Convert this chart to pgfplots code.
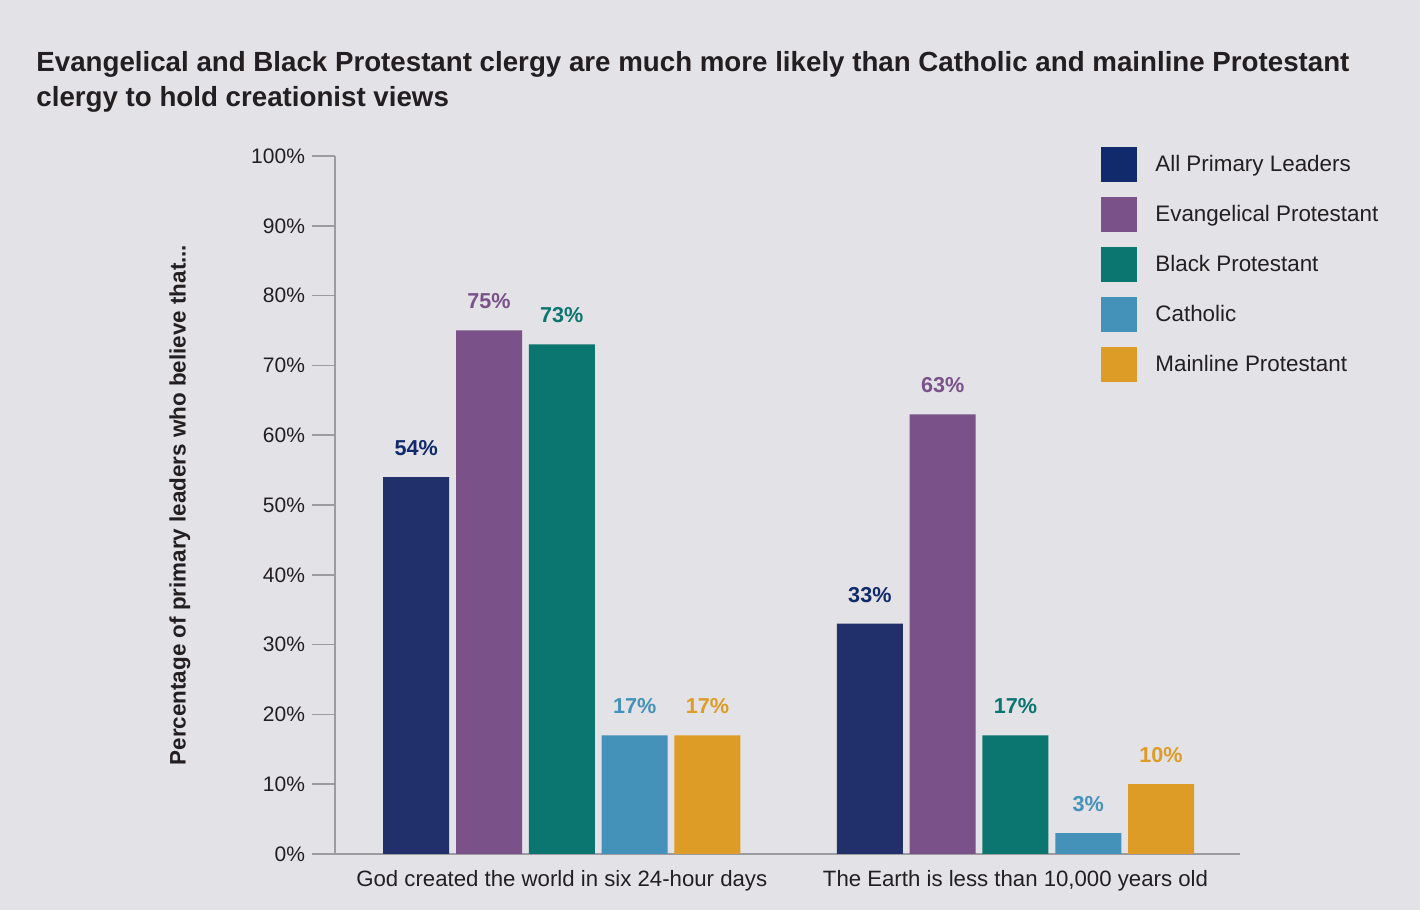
\documentclass[border=0pt]{standalone}
\usepackage{pgfplots}
\pgfplotsset{compat=1.18}
\usepackage{fontspec}
\setmainfont{Liberation Sans}

\definecolor{bg}{HTML}{E3E2E7}
\definecolor{axisgray}{HTML}{9B9BA0}
\definecolor{txt}{HTML}{231F20}
\definecolor{cnavy}{HTML}{21306A}
\definecolor{cnavyleg}{HTML}{102A6B}
\definecolor{cpurple}{HTML}{7A5189}
\definecolor{cteal}{HTML}{0B756F}
\definecolor{cblue}{HTML}{4492B9}
\definecolor{cgold}{HTML}{DD9C26}

\begin{document}
\begin{tikzpicture}
% page: 1420x910 px at 0.5pt per px
\path[fill=bg, use as bounding box] (0,0) rectangle (710pt,455pt);
\node[anchor=base west, align=left, font=\fontsize{13.85}{17.5}\selectfont\bfseries, text=txt, inner sep=0]
  at (18pt,401.5pt) {Evangelical and Black Protestant clergy are much more likely than Catholic and mainline Protestant\\clergy to hold creationist views};

\begin{axis}[
  at={(167.5pt,28pt)}, anchor=south west,
  scale only axis, width=452.5pt, height=349pt,
  ybar=3.4pt, bar width=33pt,
  xmin=-0.5, xmax=1.495,
  ymin=0, ymax=100,
  axis lines*=left,
  axis line style={axisgray, line width=0.8pt},
  xtick={0,1},
  xticklabels={{God created the world in six 24-hour days}, {The Earth is less than 10,000 years old}},
  xtick style={draw=none},
  xticklabel style={font=\fontsize{11.1}{13}\selectfont, text=txt, yshift=7pt},
  ytick={0,10,...,100},
  yticklabel={\pgfmathprintnumber{\tick}\%},
  yticklabel style={font=\fontsize{10.5}{12}\selectfont, text=txt},
  /pgf/number format/assume math mode=true,
  tick align=outside,
  ytick style={axisgray, line width=0.8pt},
  major tick length=11.5pt,
  ylabel={Percentage of primary leaders who believe that...},
  every axis y label/.style={at={(rel axis cs:0,0.5)}, rotate=90, anchor=center, yshift=77.5pt,
    font=\fontsize{11.2}{13}\selectfont\bfseries, text=txt},
  nodes near coords={\pgfmathprintnumber{\pgfplotspointmeta}\%},
  every node near coord/.append style={font=\fontsize{10.8}{12}\selectfont\bfseries, anchor=south, inner sep=0pt, yshift=10.5pt},
  legend style={at={(rel axis cs:0.8464,1.0129)}, anchor=north west, draw=none, fill=none,
    font=\fontsize{11.2}{13}\selectfont, text=txt, row sep=7.5pt, inner sep=0pt, cells={anchor=west},
    nodes={inner xsep=0pt}},
  legend image code/.code={\fill[#1] (0pt,-8.75pt) rectangle (18pt,8.75pt);},
  legend style={column sep=9pt},
]
\addplot[fill=cnavy, draw=none, every node near coord/.append style={text=cnavyleg}, legend image code/.code={\fill[cnavyleg] (0pt,-8.75pt) rectangle (18pt,8.75pt);}]
  coordinates {(0,54) (1,33)};
\addplot[fill=cpurple, draw=none, every node near coord/.append style={text=cpurple}]
  coordinates {(0,75) (1,63)};
\addplot[fill=cteal, draw=none, every node near coord/.append style={text=cteal}]
  coordinates {(0,73) (1,17)};
\addplot[fill=cblue, draw=none, every node near coord/.append style={text=cblue}]
  coordinates {(0,17) (1,3)};
\addplot[fill=cgold, draw=none, every node near coord/.append style={text=cgold}]
  coordinates {(0,17) (1,10)};
\legend{All Primary Leaders, Evangelical Protestant, Black Protestant, Catholic, Mainline Protestant}
\end{axis}
\end{tikzpicture}
\end{document}
